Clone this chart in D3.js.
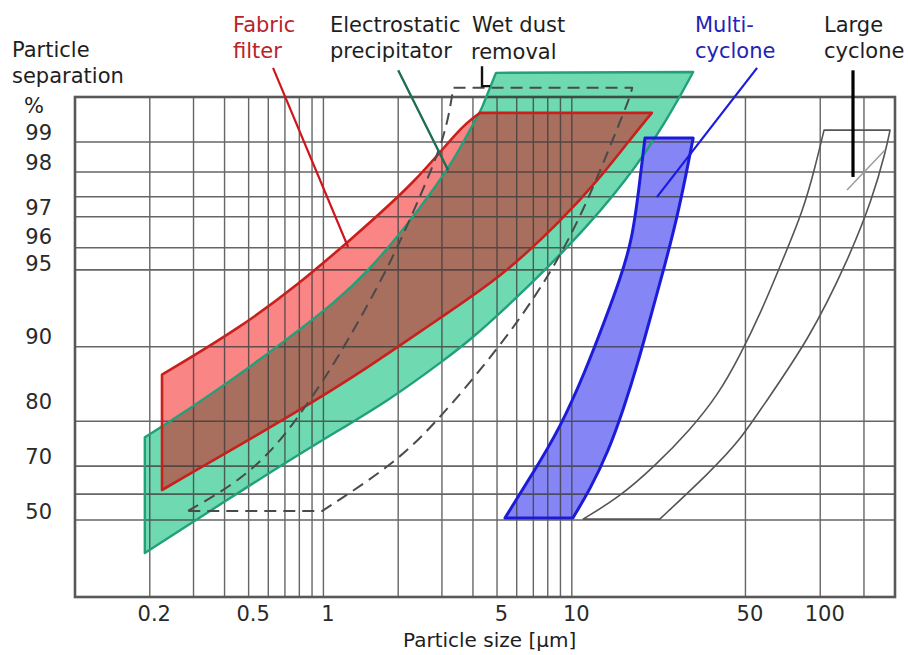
<!DOCTYPE html>
<html>
<head>
<meta charset="utf-8">
<script src="https://cdn.jsdelivr.net/npm/d3@7/dist/d3.min.js"></script>
<style>
  html, body { margin: 0; padding: 0; background: #fff; }
  svg { display: block; }
  text { font-family: "DejaVu Sans", "Liberation Sans", sans-serif; }
</style>
</head>
<body>
<svg id="chart" width="908" height="655"></svg>
<script>
// ---------------- data ----------------
const xTicks = [0.2, 0.5, 1, 5, 10, 50, 100];
const yTicks = [50, 70, 80, 90, 95, 96, 97, 98, 99];
const xGrid = [0.2, 0.3, 0.4, 0.5, 0.6, 0.7, 0.8, 0.9, 1, 2, 3, 4, 5, 6, 7, 8, 9, 10, 50, 100, 150];
const yGrid = [98.7, 97.8, 97.25, 96.7, 95.6, 94.6, 88.5, 76.5, 66.7, 56.5, 47.2];

// band edges: [particle size µm, separation %]
// Electrostatic precipitator
const espUpper = [[0.191,73.6],[0.224,75.5],[0.42,83.1],[0.805,90.5],[1.5,94.1],[3.03,97.67],[3.55,98.5],[4.27,99.29],[4.39,99.39]];
const espTop = [[4.39,99.39],[4.95,99.79],[30.8,99.8]];
const espLower = [[30.8,99.8],[24.2,99.18],[16.7,97.62],[10.1,95.78],[5.48,92.05],[3.89,89.54],[3.15,86.8],[1.85,80.3],[0.99,73.1],[0.506,59.8],[0.191,35.5]];
// Fabric filter
const fabricUpper = [[0.224,84.2],[0.46,90.6],[0.805,93.7],[1.25,95.8],[2.38,97.6],[3.55,99.08],[4.27,99.28]];
const fabricTop = [[4.27,99.28],[21.0,99.28]];
const fabricLower = [[21.0,99.28],[17.1,98.77],[13.0,97.67],[8.97,96.52],[5.14,94.04],[2.94,91.3],[1.5,85.2],[0.805,78.5],[0.224,58.0]];
// Wet dust removal
const wetLeft = [[0.285,50.4],[0.42,59.1],[0.57,68.9],[0.714,74.5],[0.883,80.3],[1.135,86.5],[1.69,93.7],[2.03,95.8],[2.61,97.6],[3.03,98.77],[3.23,99.32],[3.33,99.61]];
const wetTop = [[3.33,99.61],[17.5,99.61]];
const wetRight = [[17.5,99.61],[17.1,99.49],[15.6,99.15],[11.1,96.83],[7.94,93.9],[5.14,88.5],[2.76,75.5],[1.85,66.4],[0.99,50.4]];
// Multi-cyclone
const multiTop = [[19.7,98.83],[30.8,98.83]];
const multiRight = [[30.8,98.83],[28.8,97.73],[26.5,96.66],[23.7,94.93],[21.0,91.7],[18.5,86.15],[16.2,78.9],[14.0,70.9],[11.8,58.0],[10.1,47.9]];
const multiBottom = [[10.1,47.9],[5.38,47.9]];
const multiLeft = [[5.38,47.9],[6.98,64.2],[8.97,75.3],[11.3,84.6],[13.6,91.16],[15.6,93.9],[17.5,95.9],[18.6,97.4],[19.7,98.83]];
// Large cyclone
const largeLeft = [[11.1,47.5],[15.6,55.5],[21.6,66.7],[29.9,74.9],[38.8,81.1],[47.6,87.2],[58.3,91.85],[69.5,95.0],[85.3,96.9],[95.3,97.9],[103.6,99.04]];
const largeTop = [[103.6,99.04],[191,99.04]];
const largeRight = [[191,99.04],[184,98.43],[161.7,97.18],[129.4,95.15],[91,89.85],[57.2,78.5],[47.6,73.1],[36.0,64.5],[22.6,47.5]];

// label leader lines
const fabricLeader = [[0.627,99.85],[1.257,95.63]];
const espLeader = [[2.0,99.82],[3.18,97.84]];
const wetLeader = [[4.35,99.87],[4.35,99.63],[4.69,99.63]];
const multiLeader = [[55.7,99.85],[22.0,97.24]];
const largeLeader = [[135.5,99.82],[135.5,97.69]];
const largeLeaderThin = [[128.2,97.4],[182.3,98.43]];

// ---------------- scales ----------------
const x = d3.scaleLog().domain([0.1, 200]).range([75, 895]);
// hand-drawn, irregular separation axis: piecewise linear
const y = d3.scaleLinear()
  .domain([20, 50, 70, 80, 90, 95, 96, 97, 98, 99, 99.5, 99.8])
  .range([597, 512, 457, 402, 337, 264, 237, 208, 163, 133, 97, 72]);
const yMin = 20, yMax = 99.5, xMin = 0.1, xMax = 200;

const svg = d3.select("#chart");
svg.append("rect").attr("width", 908).attr("height", 655).attr("fill", "#fff");

const straight = d3.line().x(d => x(d[0])).y(d => y(d[1]));
const smooth = d3.line().x(d => x(d[0])).y(d => y(d[1])).curve(d3.curveBasis);
// edges: list of [points, curved?] joined into one closed outline
function outline(edges) {
  return edges.map((e, i) => {
    const p = (e[1] ? smooth : straight)(e[0]);
    return i === 0 ? p : "L" + p.slice(1);
  }).join("") + "Z";
}
const espPath = outline([[espUpper, true], [espTop, false], [espLower, true]]);
const fabricPath = outline([[fabricUpper, true], [fabricTop, false], [fabricLower, true]]);
const wetPath = outline([[wetLeft, true], [wetTop, false], [wetRight, true]]);
const multiPath = outline([[multiTop, false], [multiRight, true], [multiBottom, false], [multiLeft, true]]);
const largePath = outline([[largeLeft, true], [largeTop, false], [largeRight, true]]);

const defs = svg.append("defs");
defs.append("clipPath").attr("id", "espClip").append("path").attr("d", espPath);

// ---------------- fills ----------------
const fills = svg.append("g");
fills.append("path").attr("d", espPath).attr("fill", "#6fd9b2");
fills.append("path").attr("d", fabricPath).attr("fill", "#f98585");
fills.append("path").attr("d", fabricPath).attr("fill", "#a86e5e").attr("clip-path", "url(#espClip)");
fills.append("path").attr("d", multiPath).attr("fill", "#8585f6");

// ---------------- grid ----------------
const grid = svg.append("g").attr("stroke", "#3c3c3c").attr("opacity", 0.78);
grid.selectAll("line.v").data(xGrid).join("line")
  .attr("x1", d => x(d)).attr("x2", d => x(d))
  .attr("y1", y(yMax)).attr("y2", y(yMin)).attr("stroke-width", 1.4);
grid.selectAll("line.h").data(yGrid).join("line")
  .attr("x1", x(xMin)).attr("x2", x(xMax))
  .attr("y1", d => y(d)).attr("y2", d => y(d)).attr("stroke-width", 1.6);
grid.append("rect")
  .attr("x", x(xMin)).attr("y", y(yMax))
  .attr("width", x(xMax) - x(xMin)).attr("height", y(yMin) - y(yMax))
  .attr("fill", "none").attr("stroke", "#2a2a2a").attr("stroke-width", 2.6);

// ---------------- outlines ----------------
const outl = svg.append("g").attr("fill", "none").attr("stroke-linejoin", "round");
outl.append("path").attr("d", espPath).attr("stroke", "#22a07a").attr("stroke-width", 2.4);
outl.append("path").attr("d", fabricPath).attr("stroke", "#c8201c").attr("stroke-width", 2.6);
outl.append("path").attr("d", multiPath).attr("stroke", "#1c1cd8").attr("stroke-width", 3);
outl.append("path").attr("d", wetPath).attr("stroke", "#4a4a4a").attr("stroke-width", 2)
  .attr("stroke-dasharray", "12,7");
outl.append("path").attr("d", largePath).attr("stroke", "#555").attr("stroke-width", 1.6);

// ---------------- leaders ----------------
const lead = svg.append("g").attr("fill", "none");
lead.append("path").attr("d", straight(fabricLeader)).attr("stroke", "#d0141c").attr("stroke-width", 2.2);
lead.append("path").attr("d", straight(espLeader)).attr("stroke", "#1d6e55").attr("stroke-width", 2.4);
lead.append("path").attr("d", straight(wetLeader)).attr("stroke", "#111").attr("stroke-width", 2.4);
lead.append("path").attr("d", straight(multiLeader)).attr("stroke", "#1a1ae0").attr("stroke-width", 2.2);
lead.append("path").attr("d", straight(largeLeader)).attr("stroke", "#000").attr("stroke-width", 3.2);
lead.append("path").attr("d", straight(largeLeaderThin)).attr("stroke", "#9a9a9a").attr("stroke-width", 1.4);

// ---------------- axes ----------------
const fs = 21;
const yAxis = d3.axisLeft(y).tickValues(yTicks).tickSize(0).tickPadding(0).tickFormat(d3.format("d"));
const gy = svg.append("g").attr("transform", "translate(52,0)").call(yAxis);
gy.select(".domain").remove();
gy.selectAll("text").attr("font-size", fs).attr("fill", "#2a2a2a")
  .style("font-family", '"DejaVu Sans", sans-serif');

const xAxis = d3.axisBottom(x).tickValues(xTicks).tickSize(0).tickPadding(9).tickFormat(d => String(d));
const gx = svg.append("g").attr("transform", `translate(4,${y(yMin)})`).call(xAxis);
gx.select(".domain").remove();
gx.selectAll("text").attr("font-size", fs).attr("fill", "#2a2a2a")
  .style("font-family", '"DejaVu Sans", sans-serif');

// ---------------- titles & labels ----------------
const T = (txt, tx, ty, col, size) => svg.append("text").attr("x", tx).attr("y", ty)
  .attr("font-size", size || fs).attr("fill", col || "#1e1e1e").text(txt);

T("Particle", 12, 57);
T("separation", 12, 83);
T("%", 24, 113);
T("Particle size [µm]", 403, 647, "#1e1e1e", 20);

T("Fabric", 233, 32, "#b8232a");
T("filter", 233, 58, "#b8232a");
T("Electrostatic", 330, 32);
T("precipitator", 330, 58);
T("Wet dust", 472, 32);
T("removal", 471, 59);
T("Multi-", 695, 32, "#2323b4");
T("cyclone", 695, 58, "#2323b4");
T("Large", 824, 32);
T("cyclone", 824, 58);
</script>
</body>
</html>
